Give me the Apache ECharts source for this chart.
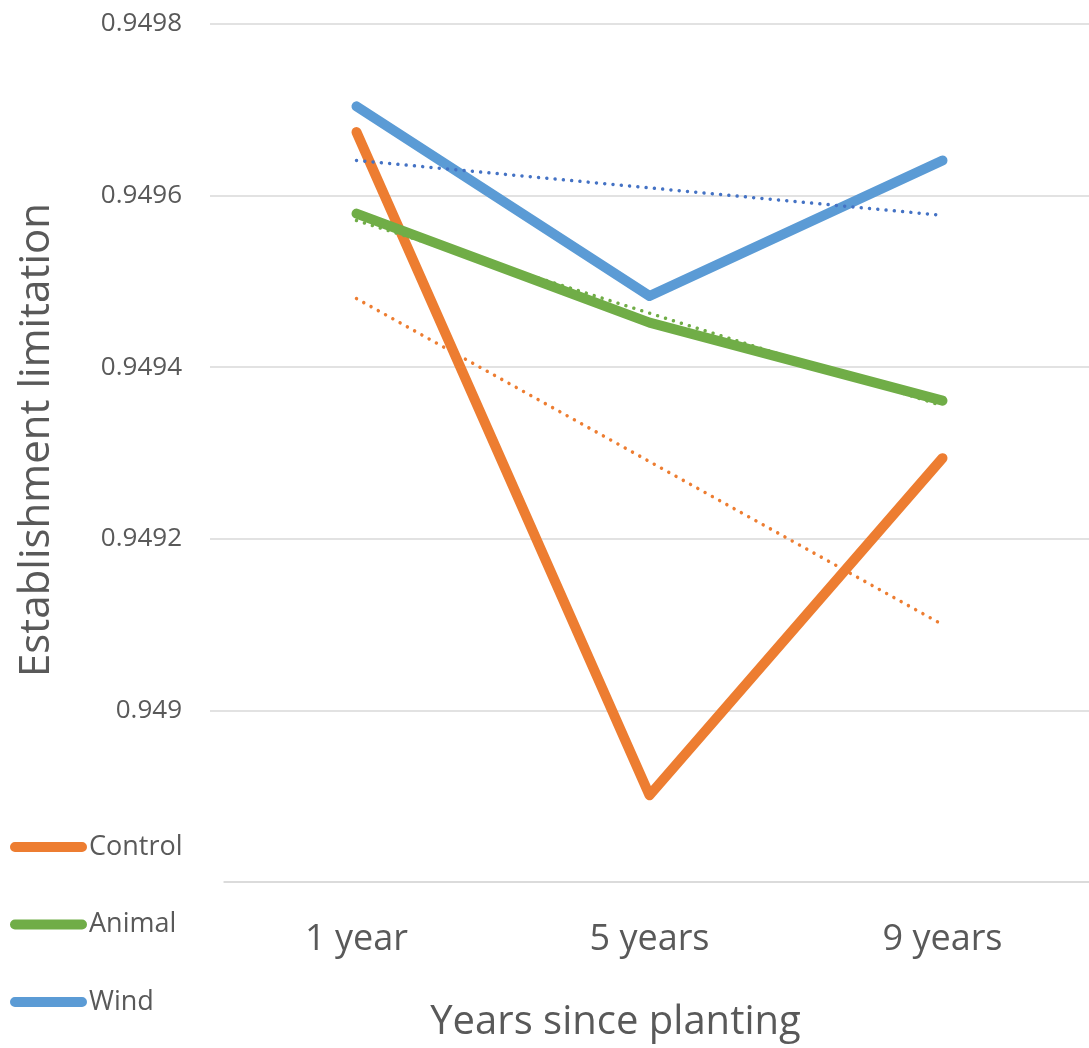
<!DOCTYPE html>
<html>
<head>
<meta charset="utf-8">
<script src="https://cdn.jsdelivr.net/npm/echarts@6/dist/echarts.min.js"></script>
<style>
  html, body { margin: 0; padding: 0; background: #fff; }
  #chart { width: 1089px; height: 1048px; }
</style>
</head>
<body>
<div id="chart"></div>
<script>
// Establishment limitation by time since planting, per dispersal treatment
const categories = ['1 year', '5 years', '9 years'];
const control = [0.949674, 0.948901, 0.949294];
const animal  = [0.949579, 0.949452, 0.949361];
const wind    = [0.949704, 0.949483, 0.949641];

// Linear trend lines for each treatment
const controlTrend = [0.94948, 0.94929, 0.94910];
const animalTrend  = [0.949571, 0.949463, 0.949355];
const windTrend    = [0.949641, 0.949609, 0.949577];

const yTicks = { min: 0.9488, max: 0.9498, step: 0.0002 };

const TEXT = '#595959';
const FONT = 'Open Sans';
const capsule = 'path://M5,0 L73,0 A5,5 0 0 1 73,10 L5,10 A5,5 0 0 1 5,0 Z';

function mainLine(name, data, color) {
  return {
    name, type: 'line', data, symbol: 'none', z: 2,
    itemStyle: { color },
    lineStyle: { color, width: 10, cap: 'round', join: 'round' }
  };
}
function trendLine(name, data, color) {
  return {
    name, type: 'line', data, symbol: 'none', z: 3, silent: true,
    itemStyle: { color },
    lineStyle: { color, width: 3.5, type: [0.01, 8.3], cap: 'round' }
  };
}

const chart = echarts.init(document.getElementById('chart'));
chart.setOption({
  animation: false,
  backgroundColor: '#fff',
  textStyle: { fontFamily: FONT, color: TEXT },
  grid: { left: 210, top: 24, width: 885, height: 858 },
  legend: {
    data: ['Control', 'Animal', 'Wind'],
    orient: 'vertical',
    left: 10, top: 832,
    padding: [0, 41, 0, 0],
    backgroundColor: '#fff',
    itemWidth: 77, itemHeight: 10, itemGap: 47.5,
    icon: capsule,
    textStyle: { fontFamily: FONT, fontSize: 27, color: TEXT, lineHeight: 30, padding: [0, 0, 0, -3] }
  },
  xAxis: {
    type: 'category',
    data: categories,
    boundaryGap: true,
    axisLine: { show: true, lineStyle: { color: '#D9D9D9', width: 1.5 } },
    axisTick: { show: false },
    axisLabel: { fontFamily: FONT, fontSize: 36, color: TEXT, margin: 40, lineHeight: 36 },
    name: 'Years since planting',
    nameLocation: 'middle',
    nameGap: 121,
    nameTextStyle: { fontFamily: FONT, fontSize: 40, color: TEXT, lineHeight: 40, padding: [0, 68, 0, 0] }
  },
  yAxis: {
    type: 'value',
    min: yTicks.min, max: yTicks.max, interval: yTicks.step,
    axisLine: { show: false },
    axisTick: { show: false },
    splitLine: { lineStyle: { color: '#D9D9D9', width: 1.5 } },
    axisLabel: {
      fontFamily: FONT, fontSize: 26, color: TEXT, margin: 28,
      formatter: v => (v < yTicks.min + yTicks.step / 2 ? '' : String(+v.toFixed(4)))
    },
    name: 'Establishment limitation',
    nameLocation: 'middle',
    nameRotate: 90,
    nameGap: 152,
    nameTextStyle: { fontFamily: FONT, fontSize: 42, color: TEXT, lineHeight: 42, padding: [0, 0, 0, 26] }
  },
  series: [
    mainLine('Control', control, '#ED7D31'),
    mainLine('Animal', animal, '#70AD47'),
    mainLine('Wind', wind, '#5B9BD5'),
    trendLine('Control trend', controlTrend, '#ED7D31'),
    trendLine('Animal trend', animalTrend, '#70AD47'),
    trendLine('Wind trend', windTrend, '#4472C4')
  ]
});
</script>
</body>
</html>
